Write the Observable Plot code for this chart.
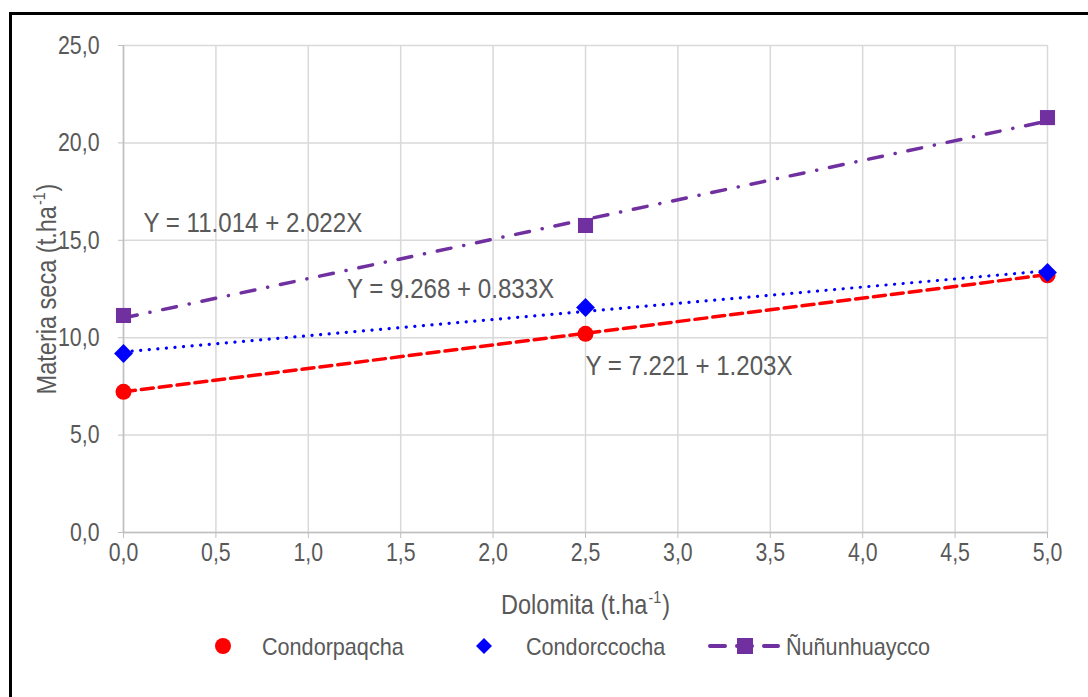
<!DOCTYPE html>
<html>
<head>
<meta charset="utf-8">
<script src="https://cdn.jsdelivr.net/npm/d3@7"></script>
<script src="https://cdn.jsdelivr.net/npm/@observablehq/plot@0.6"></script>
<style>
  html, body { margin: 0; padding: 0; background: #fff; }
  #wrap { position: relative; width: 1088px; height: 697px; overflow: hidden;
          font-family: "Liberation Sans", Arial, sans-serif; }
  #frame { position: absolute; left: 9px; top: 12px; width: 1200px; height: 800px;
           border-left: 3px solid #000; border-top: 3px solid #000; pointer-events: none; }
  #chart { position: absolute; left: 0; top: 0; }
  #legend { position: absolute; left: 0; top: 625px; width: 1088px; height: 72px; }
  .item { position: absolute; top: 8px; font-size: 24px; color: #595959; line-height: 28px;
          white-space: nowrap; transform: scaleX(0.9); transform-origin: left center; }
  .sw { position: absolute; top: 12px; }
</style>
</head>
<body>
<div id="wrap">
  <div id="chart"></div>
  <div id="legend"></div>
  <div id="frame"></div>
</div>
<script>
// ---- data ----
const dolomita = [0, 2.5, 5];
const condorpaqcha = [7.22, 10.2, 13.2];
const condorccocha = [9.19, 11.55, 13.35];
const nunun = [11.14, 15.76, 21.3];

const seriesNames = ["Condorpaqcha", "Condorccocha", "Ñuñunhuaycco"];
const seriesColors = ["#ff0000", "#0000ff", "#7030a0"];
const intercepts = [7.221, 9.268, 11.014];
const slopes = [1.203, 0.833, 2.022];
const equations = ["Y = 7.221 + 1.203X", "Y = 9.268 + 0.833X", "Y = 11.014 + 2.022X"];
const eqX = [3.06, 1.77, 0.70];
const eqY = [8.55, 12.5, 15.9];

const xTicks = [0, 0.5, 1, 1.5, 2, 2.5, 3, 3.5, 4, 4.5, 5];
const yTicks = [0, 5, 10, 15, 20, 25];
const xTitle = "Dolomita (t.ha-1)";
const yTitle = "Materia seca (t.ha-1)";

// ---- build tables ----
const vals = [condorpaqcha, condorccocha, nunun];
const points = [];
vals.forEach((arr, s) => arr.forEach((v, i) => points.push({series: seriesNames[s], x: dolomita[i], y: v})));
const trend = s => [0, 5].map(x => ({x, y: intercepts[s] + slopes[s] * x}));
const eqs = equations.map((t, i) => ({t, x: eqX[i], y: eqY[i]}));

const fmt = d => d.toFixed(1).replace(".", ",");
const txt = "#595959";

const plot = Plot.plot({
  width: 1088,
  height: 625,
  marginLeft: 123,
  marginRight: 41,
  marginTop: 45,
  marginBottom: 93,
  style: {fontFamily: '"Liberation Sans", Arial, sans-serif', background: "transparent", overflow: "visible"},
  x: {domain: [0, 5], ticks: xTicks, tickFormat: fmt},
  y: {domain: [0, 25], ticks: yTicks, tickFormat: fmt},
  marks: [
    Plot.gridX(xTicks, {stroke: "#d9d9d9", strokeOpacity: 1, strokeWidth: 1.5}),
    Plot.gridY(yTicks, {stroke: "#d9d9d9", strokeOpacity: 1, strokeWidth: 1.5}),
    Plot.ruleX([0], {stroke: "#bfbfbf", strokeWidth: 1.5}),
    Plot.ruleY([0], {stroke: "#bfbfbf", strokeWidth: 1.5}),
    Plot.axisX({ticks: xTicks, tickFormat: fmt, tickSize: 6, tickPadding: 4, stroke: "#bfbfbf", fill: txt, fontSize: 26, label: null, className: "tick-x"}),
    Plot.axisY({ticks: yTicks, tickFormat: fmt, tickSize: 5, tickPadding: 19, stroke: "#bfbfbf", fill: txt, fontSize: 26, label: null, className: "tick-y"}),
    Plot.text([xTitle], {frameAnchor: "bottom", dy: 81, fontSize: 28, fill: txt, className: "title-x"}),
    Plot.text([yTitle], {frameAnchor: "left", textAnchor: "middle", dx: -76, rotate: -90, fontSize: 28, fill: txt, className: "title-y"}),
    Plot.line(trend(0), {x: "x", y: "y", stroke: seriesColors[0], strokeWidth: 3.5, strokeDasharray: "12,6"}),
    Plot.line(trend(1), {x: "x", y: "y", stroke: seriesColors[1], strokeWidth: 3.2, strokeDasharray: "0.1,8.5", strokeLinecap: "round"}),
    Plot.line(trend(2), {x: "x", y: "y", stroke: seriesColors[2], strokeWidth: 3.5, strokeDasharray: "14,13,0.1,13", strokeLinecap: "round"}),
    Plot.dot(points.filter(d => d.series === seriesNames[0]), {x: "x", y: "y", r: 8, fill: seriesColors[0], symbol: "circle"}),
    Plot.dot(points.filter(d => d.series === seriesNames[1]), {x: "x", y: "y", r: 8.5, fill: seriesColors[1], symbol: "diamond2"}),
    Plot.dot(points.filter(d => d.series === seriesNames[2]), {x: "x", y: "y", r: 8.5, fill: seriesColors[2], symbol: "square"}),
    Plot.text(eqs, {x: "x", y: "y", text: "t", fontSize: 28, fill: txt, className: "eq"})
  ]
});
document.getElementById("chart").appendChild(plot);

// condense text horizontally (narrow typeface look)
function condense(sel, f) {
  plot.querySelectorAll(sel).forEach(t => {
    const w = t.getComputedTextLength();
    t.setAttribute("textLength", (w * f).toFixed(1));
    t.setAttribute("lengthAdjust", "spacingAndGlyphs");
  });
}
condense(".tick-x text, .tick-y text", 0.82);
condense(".eq text", 0.86);

// axis titles: condensed main part, then superscript "-1" and ")" as separate tspans
plot.querySelectorAll(".title-x text, .title-y text").forEach(t => {
  const s = t.textContent;
  const i = s.indexOf("-1");
  if (i < 0) return;
  const NS = "http://www.w3.org/2000/svg";
  t.textContent = "";
  const a = document.createElementNS(NS, "tspan"); a.textContent = s.slice(0, i);
  const b = document.createElementNS(NS, "tspan"); b.textContent = "-1";
  b.setAttribute("font-size", "17"); b.setAttribute("dy", "-11"); b.setAttribute("dx", "1");
  const c = document.createElementNS(NS, "tspan"); c.textContent = s.slice(i + 2);
  c.setAttribute("dy", "11"); c.setAttribute("dx", "1");
  t.append(a, b, c);
  [a, b, c].forEach(el => {
    const w = el.getComputedTextLength();
    el.setAttribute("textLength", (w * 0.84).toFixed(1));
    el.setAttribute("lengthAdjust", "spacingAndGlyphs");
  });
});

// ---- legend ----
const legend = document.getElementById("legend");
const items = [
  {name: seriesNames[0], sw: 214, tx: 262, svg: `<svg width="18" height="18"><circle cx="9" cy="9" r="8" fill="${seriesColors[0]}"/></svg>`},
  {name: seriesNames[1], sw: 475, tx: 526, svg: `<svg width="18" height="18"><path d="M9 1 L17 9 L9 17 L1 9 Z" fill="${seriesColors[1]}"/></svg>`},
  {name: seriesNames[2], sw: 708, tx: 786, svg: `<svg width="74" height="18"><line x1="2" y1="9" x2="70" y2="9" stroke="${seriesColors[2]}" stroke-width="4" stroke-linecap="round" stroke-dasharray="15,12"/><rect x="29" y="1" width="16" height="16" fill="${seriesColors[2]}"/></svg>`}
];
items.forEach(it => {
  const s = document.createElement("div");
  s.className = "sw"; s.style.left = it.sw + "px"; s.innerHTML = it.svg;
  legend.appendChild(s);
  const t = document.createElement("div");
  t.className = "item"; t.style.left = it.tx + "px"; t.textContent = it.name;
  legend.appendChild(t);
});
</script>
</body>
</html>
